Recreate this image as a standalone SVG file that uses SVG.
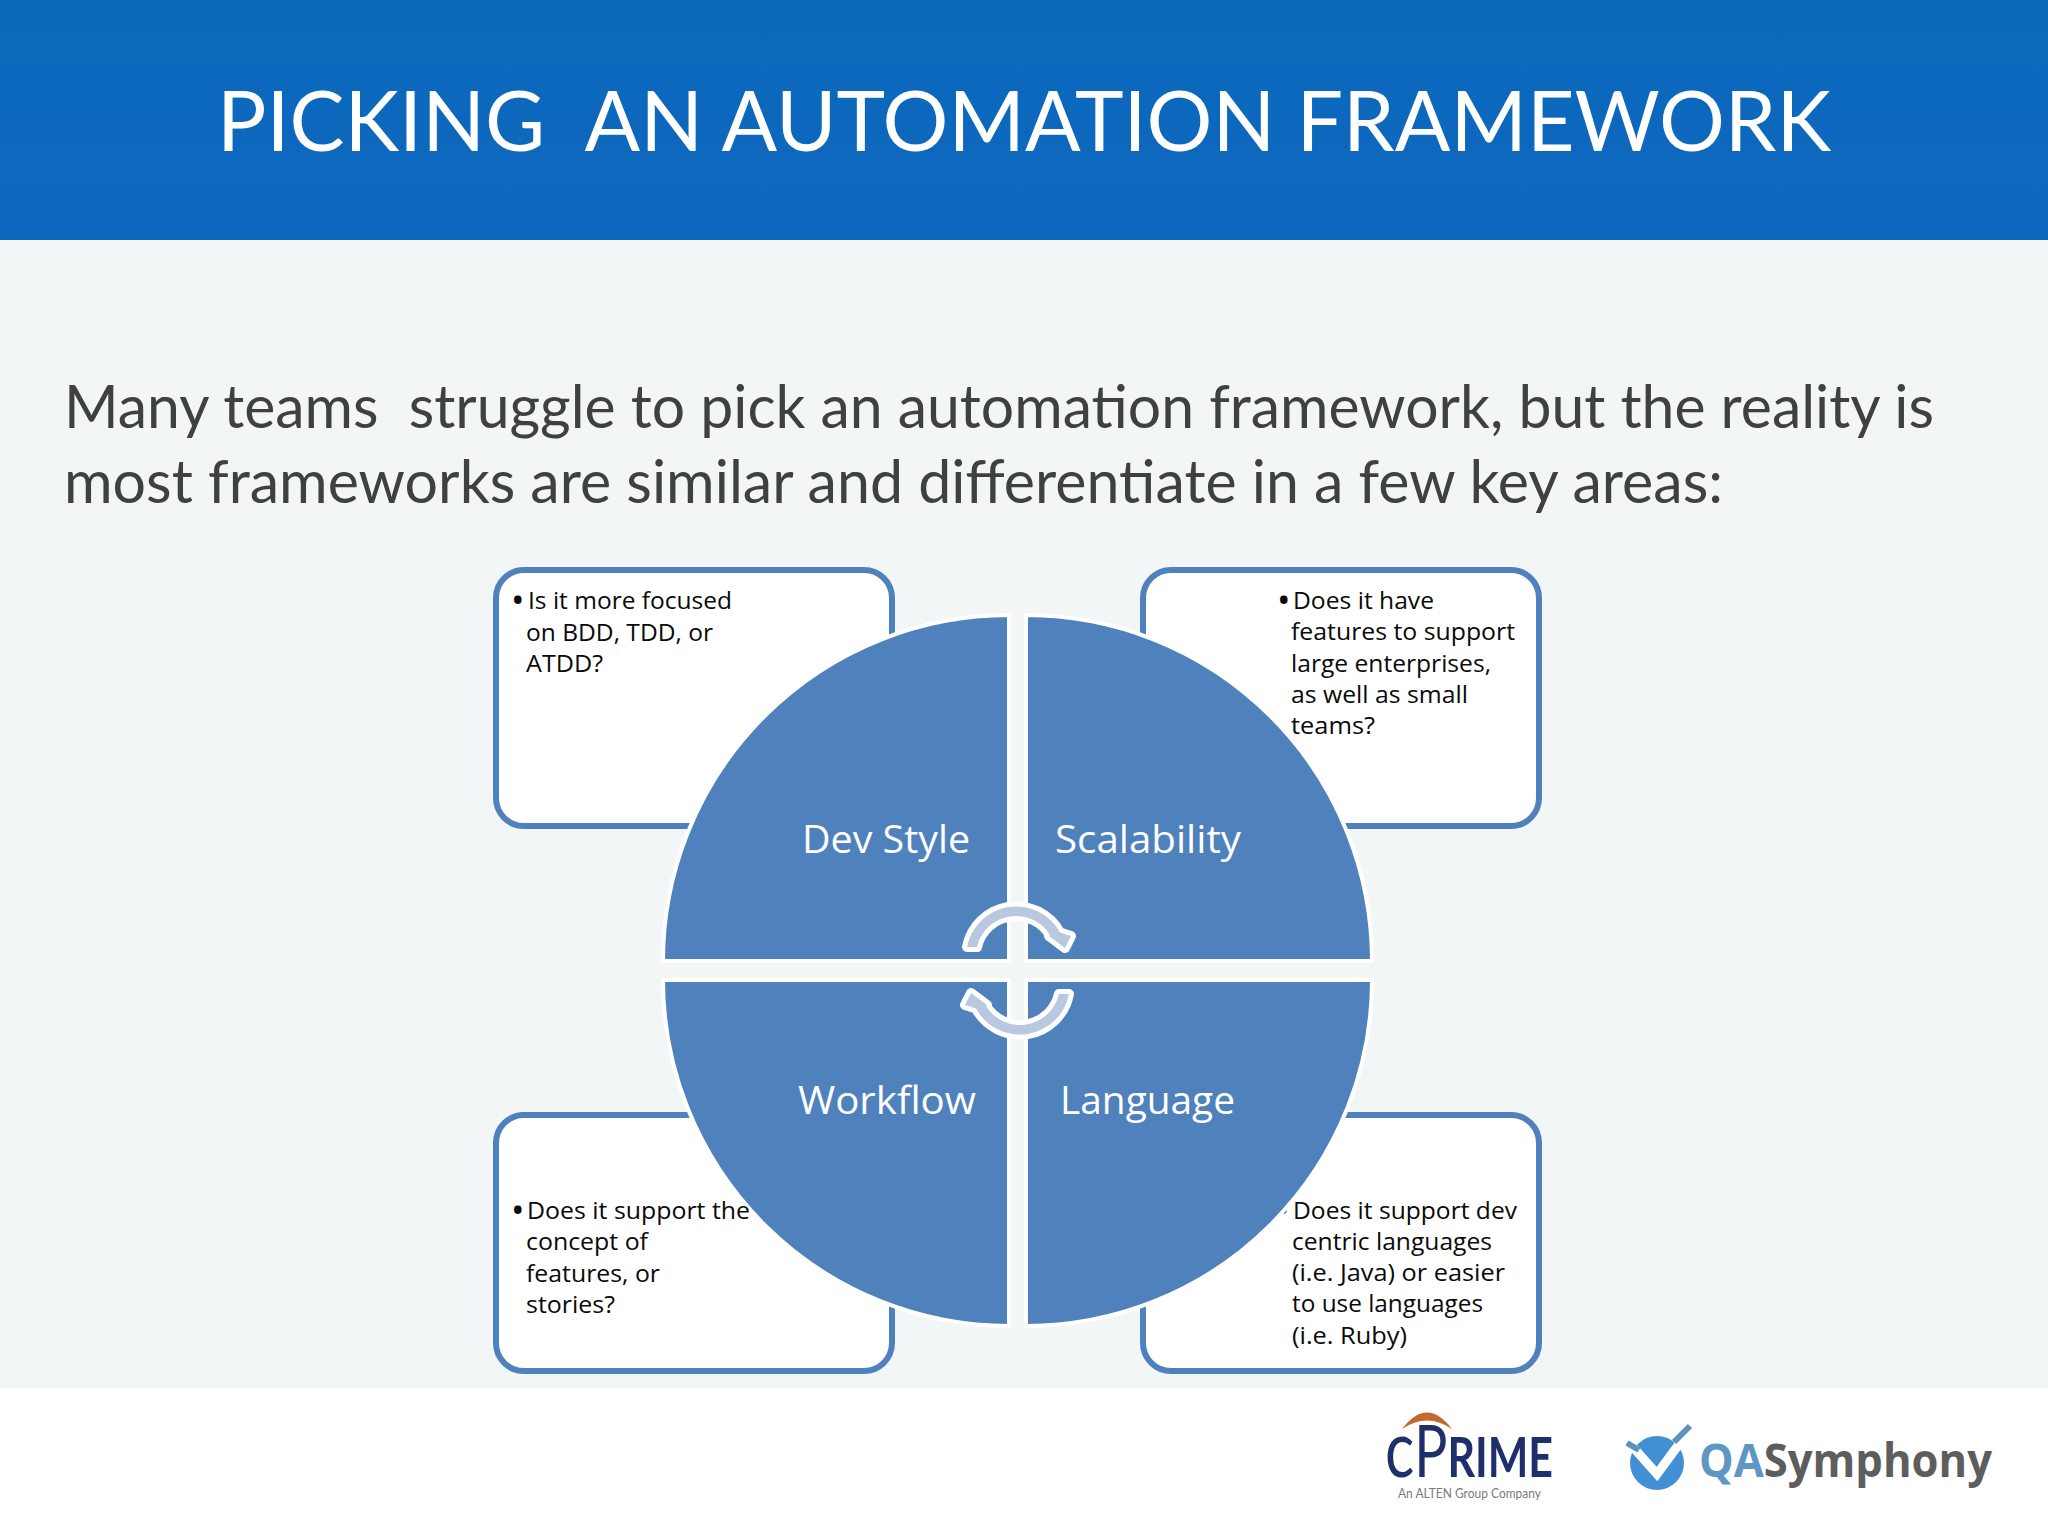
<svg xmlns="http://www.w3.org/2000/svg" width="2048" height="1536" viewBox="0 0 2048 1536">
<defs>
<linearGradient id="hdr" x1="0" y1="0" x2="0" y2="1"><stop offset="0" stop-color="#0b69bb"/><stop offset="1" stop-color="#0e67bf"/></linearGradient>
<path id="cyc" d="M967 947 A50 50 0 0 1 1060 932.5 L1071 936 L1065 948 L1049 936 L1050 935 A40 40 0 0 0 977 947 Z" fill="#b9c7df" stroke="#fff" stroke-width="10" stroke-linejoin="round" paint-order="stroke"/>
</defs>
<style>
.box{fill:#fff;stroke:#4f81bd;stroke-width:6}
.pie{fill:#4f81bd;stroke:#fff;stroke-width:4}
.t{font-family:"Open Sans","Liberation Sans",sans-serif;font-size:24px;fill:#0a0a0a}
.b{font-family:"Open Sans","Liberation Sans",sans-serif;font-size:36px;fill:#0a0a0a}
.q{font-family:"Open Sans","Liberation Sans",sans-serif;font-size:38px;fill:#fff;text-anchor:start}
.h{font-family:Lato,"Liberation Sans",sans-serif}
</style>
<rect width="2048" height="1536" fill="#fff"/>
<rect y="240" width="2048" height="1148" fill="#f3f6f7"/>
<rect id="header" width="2048" height="240" fill="url(#hdr)"/>
<text class="h" x="217" y="151" font-size="84" fill="#fff" xml:space="preserve" textLength="1614" lengthAdjust="spacingAndGlyphs">PICKING  AN AUTOMATION FRAMEWORK</text>
<g id="intro" class="h" font-size="60" fill="#404040">
<text x="64" y="428" xml:space="preserve" textLength="1870" lengthAdjust="spacingAndGlyphs">Many teams  struggle to pick an automation framework, but the reality is</text>
<text x="64" y="503" textLength="1659" lengthAdjust="spacingAndGlyphs">most frameworks are similar and differentiate in a few key areas:</text>
</g>
<g id="box-dev-style"><rect class="box" x="496" y="570" width="396" height="256" rx="28"/></g>
<g id="box-scalability"><rect class="box" x="1143" y="570" width="396" height="256" rx="28"/></g>
<g id="box-workflow"><rect class="box" x="496" y="1115" width="396" height="256" rx="28"/></g>
<g id="box-language"><rect class="box" x="1143" y="1115" width="396" height="256" rx="28"/><text class="b" x="1276" y="1223">•</text></g>
<g id="pie-dev-style"><path class="pie" d="M1009 961 H663 A346 346 0 0 1 1009 615 Z"/><text class="q" x="802" y="853" textLength="168" lengthAdjust="spacingAndGlyphs">Dev Style</text></g>
<g id="pie-scalability"><path class="pie" d="M1026 961 V615 A346 346 0 0 1 1372 961 Z"/><text class="q" x="1055" y="853" textLength="186" lengthAdjust="spacingAndGlyphs">Scalability</text></g>
<g id="pie-workflow"><path class="pie" d="M1009 980 V1326 A346 346 0 0 1 663 980 Z"/><text class="q" x="798" y="1114" textLength="178" lengthAdjust="spacingAndGlyphs">Workflow</text></g>
<g id="pie-language"><path class="pie" d="M1026 980 H1372 A346 346 0 0 1 1026 1326 Z"/><text class="q" x="1060" y="1114" textLength="175" lengthAdjust="spacingAndGlyphs">Language</text></g>
<g id="connectors">
<use href="#cyc"/>
<use href="#cyc" transform="rotate(180 1018 970.5)"/>
</g>
<g id="text-dev-style" class="t">
<text class="b" x="511" y="613">•</text>
<text x="528" y="609" textLength="204" lengthAdjust="spacingAndGlyphs">Is it more focused</text>
<text x="526" y="641" textLength="187" lengthAdjust="spacingAndGlyphs">on BDD, TDD, or</text>
<text x="526" y="672" textLength="77" lengthAdjust="spacingAndGlyphs">ATDD?</text>
</g>
<g id="text-scalability" class="t">
<text class="b" x="1277" y="613">•</text>
<text x="1293" y="609" textLength="141" lengthAdjust="spacingAndGlyphs">Does it have</text>
<text x="1291" y="640" textLength="224" lengthAdjust="spacingAndGlyphs">features to support</text>
<text x="1291" y="672" textLength="200" lengthAdjust="spacingAndGlyphs">large enterprises,</text>
<text x="1291" y="703" textLength="177" lengthAdjust="spacingAndGlyphs">as well as small</text>
<text x="1291" y="734" textLength="84" lengthAdjust="spacingAndGlyphs">teams?</text>
</g>
<g id="text-workflow" class="t">
<text class="b" x="511" y="1223">•</text>
<text x="527" y="1219" textLength="223" lengthAdjust="spacingAndGlyphs">Does it support the</text>
<text x="526" y="1250" textLength="122" lengthAdjust="spacingAndGlyphs">concept of</text>
<text x="526" y="1282" textLength="134" lengthAdjust="spacingAndGlyphs">features, or</text>
<text x="526" y="1313" textLength="89" lengthAdjust="spacingAndGlyphs">stories?</text>
</g>
<g id="text-language" class="t">
<text x="1293" y="1219" textLength="224" lengthAdjust="spacingAndGlyphs">Does it support dev</text>
<text x="1292" y="1250" textLength="200" lengthAdjust="spacingAndGlyphs">centric languages</text>
<text x="1292" y="1281" textLength="213" lengthAdjust="spacingAndGlyphs">(i.e. Java) or easier</text>
<text x="1292" y="1312" textLength="191" lengthAdjust="spacingAndGlyphs">to use languages</text>
<text x="1292" y="1344" textLength="115" lengthAdjust="spacingAndGlyphs">(i.e. Ruby)</text>
</g>
<g id="logo-cprime">
<path d="M1402 1429 Q1427 1396 1452 1429 Q1427 1412 1402 1429 Z" fill="#c56a2d"/>
<text x="1385" y="1477" font-family="Lato,'Liberation Sans',sans-serif" font-weight="700" font-size="56" fill="#1f2f6b" textLength="168" lengthAdjust="spacingAndGlyphs"><tspan font-size="80" font-weight="400">c</tspan><tspan font-size="72" font-weight="400">P</tspan>RIME</text>
<text x="1398" y="1498" font-family="Lato,'Liberation Sans',sans-serif" font-size="14" fill="#7a7a7a" textLength="143" lengthAdjust="spacingAndGlyphs">An ALTEN Group Company</text>
</g>
<g id="logo-qasymphony">
<ellipse cx="1657" cy="1463" rx="27" ry="27" fill="#4290d3"/>
<path d="M1632 1446 L1657 1474 L1688 1432" fill="none" stroke="#fff" stroke-width="9"/>
<path d="M1627 1443 L1639 1450 M1674 1442 L1690 1426" fill="none" stroke="#5c93bd" stroke-width="6"/>
<text x="1699" y="1477" font-family="'Open Sans','Liberation Sans',sans-serif" font-weight="700" font-size="46" fill="#5d5d5d" textLength="293" lengthAdjust="spacingAndGlyphs"><tspan fill="#5e96c4">QA</tspan>Symphony</text>
</g>
</svg>
